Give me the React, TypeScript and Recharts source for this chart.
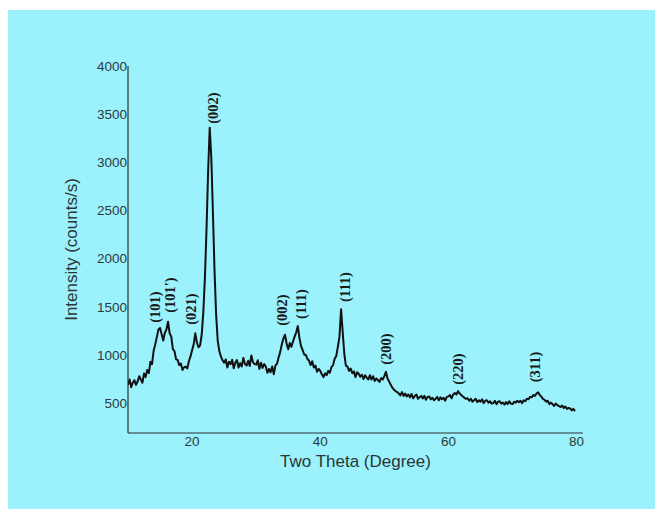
import React from "react";
import { ComposedChart, Line, Scatter, XAxis, YAxis } from "recharts";

// Two Theta start and step of the scan grid (degrees); each row = one degree, 4 samples
const scanStart = 10;
const scanStep = 0.25;
const intensityRows: number[][] = [
  [690, 745, 665, 712], // 10
  [738, 690, 725, 780], // 11
  [745, 712, 808, 770], // 12
  [845, 812, 930, 905], // 13
  [1045, 1110, 1185, 1265], // 14
  [1280, 1215, 1150, 1230], // 15
  [1265, 1345, 1225, 1190], // 16
  [1060, 1040, 955, 948], // 17
  [895, 912, 845, 872], // 18
  [880, 860, 935, 985], // 19
  [1050, 1110, 1225, 1130], // 20
  [1080, 1100, 1210, 1440], // 21
  [1800, 2300, 2900, 3360], // 22
  [3050, 2480, 1880, 1420], // 23
  [1150, 1040, 985, 945], // 24
  [920, 955, 870, 930], // 25
  [905, 950, 862, 920], // 26
  [948, 870, 915, 880], // 27
  [970, 905, 890, 940], // 28
  [885, 995, 925, 905], // 29
  [900, 945, 855, 920], // 30
  [865, 905, 880, 815], // 31
  [855, 820, 880, 800], // 32
  [890, 910, 975, 1030], // 33
  [1110, 1170, 1210, 1120], // 34
  [1060, 1125, 1085, 1140], // 35
  [1190, 1235, 1300, 1175], // 36
  [1095, 1050, 1005, 1000], // 37
  [960, 940, 895, 935], // 38
  [870, 890, 825, 855], // 39
  [835, 800, 770, 810], // 40
  [790, 835, 815, 875], // 41
  [895, 960, 990, 1085], // 42
  [1190, 1475, 1240, 1015], // 43
  [890, 880, 835, 860], // 44
  [810, 830, 770, 820], // 45
  [805, 775, 795, 750], // 46
  [790, 765, 745, 790], // 47
  [745, 780, 730, 755], // 48
  [740, 720, 760, 745], // 49
  [780, 825, 755, 725], // 50
  [690, 660, 640, 625], // 51
  [615, 600, 580, 615], // 52
  [575, 600, 570, 590], // 53
  [560, 595, 550, 575], // 54
  [590, 545, 560, 575], // 55
  [550, 575, 535, 565], // 56
  [570, 540, 555, 530], // 57
  [545, 565, 530, 560], // 58
  [540, 555, 525, 565], // 59
  [570, 585, 550, 590], // 60
  [605, 590, 625, 600], // 61
  [585, 570, 555, 545], // 62
  [550, 525, 545, 515], // 63
  [530, 545, 510, 530], // 64
  [515, 540, 500, 525], // 65
  [530, 505, 520, 495], // 66
  [500, 525, 490, 515], // 67
  [520, 495, 505, 485], // 68
  [510, 490, 520, 495], // 69
  [490, 515, 505, 525], // 70
  [510, 525, 500, 530], // 71
  [520, 545, 540, 565], // 72
  [560, 585, 575, 600], // 73
  [612, 585, 568, 545], // 74
  [535, 515, 525, 490], // 75
  [505, 490, 470, 495], // 76
  [480, 470, 460, 475], // 77
  [450, 465, 440, 450], // 78
  [445, 425, 440, 418], // 79
];

// Peak annotations (Miller indices)
const peakLabels = ["(101)", "(101')", "(021)", "(002)", "(002)", "(111)", "(111)", "(200)", "(220)", "(311)"];
const peakTheta = [14.24, 16.58, 19.85, 23.28, 34.03, 36.99, 43.85, 50.24, 61.46, 73.46];
const peakLabelY = [1498, 1622, 1477, 3564, 1467, 1529, 1705, 1062, 854, 875];

const xTicks = [20, 40, 60, 80];
const yTicks = [500, 1000, 1500, 2000, 2500, 3000, 3500, 4000];

const curve = intensityRows.flatMap((row, r) =>
  row.map((v, k) => ({ x: scanStart + (r * 4 + k) * scanStep, y: v }))
);
const peaks = peakLabels.map((label, i) => ({ x: peakTheta[i], y: peakLabelY[i], label }));

const PeakText = (props: any) => {
  const { cx, cy, payload } = props;
  return (
    <text
      x={cx}
      y={cy}
      transform={`rotate(-90 ${cx} ${cy})`}
      textAnchor="middle"
      dominantBaseline="central"
      fontFamily="'Liberation Serif', 'Times New Roman', serif"
      fontWeight="bold"
      fontSize={14.5}
      fill="#1a1a1a"
    >
      {payload.label}
    </text>
  );
};

const tickStyle = { fill: "#2b3a3c", fontSize: 13.5, fontFamily: "'Liberation Sans', Arial, sans-serif" };

export default function App() {
  return (
    <div style={{ position: "relative", top: 2, width: 655, height: 501, background: "#9bf2fc" }}>
      <ComposedChart
        width={655}
        height={501}
        margin={{ top: 56, right: 80, left: 0, bottom: 0 }}
      >
        <XAxis
          type="number"
          dataKey="x"
          domain={[10, 81]}
          ticks={xTicks}
          allowDataOverflow
          tickLine={false}
          tickSize={0}
          tickMargin={3}
          height={78}
          axisLine={{ stroke: "#2a2f30", strokeWidth: 1.2 }}
          tick={tickStyle}
          label={{
            value: "Two Theta (Degree)",
            position: "insideTop",
            offset: 22,
            fill: "#2b3536",
            fontSize: 17,
            fontFamily: "'Liberation Sans', Arial, sans-serif",
          }}
        />
        <YAxis
          type="number"
          dataKey="y"
          domain={[190, 4000]}
          ticks={yTicks}
          allowDataOverflow
          tickLine={false}
          tickSize={0}
          tickMargin={1}
          width={120}
          axisLine={{ stroke: "#2a2f30", strokeWidth: 1.2 }}
          tick={tickStyle}
          label={{
            value: "Intensity (counts/s)",
            angle: -90,
            position: "insideLeft",
            offset: 63,
            fill: "#2b3536",
            fontSize: 17,
            fontFamily: "'Liberation Sans', Arial, sans-serif",
            style: { textAnchor: "middle" },
          }}
        />
        <Line
          data={curve}
          dataKey="y"
          type="linear"
          stroke="#111"
          strokeWidth={2}
          strokeLinejoin="round"
          dot={false}
          isAnimationActive={false}
        />
        <Scatter data={peaks} dataKey="y" shape={PeakText} isAnimationActive={false} />
      </ComposedChart>
    </div>
  );
}
